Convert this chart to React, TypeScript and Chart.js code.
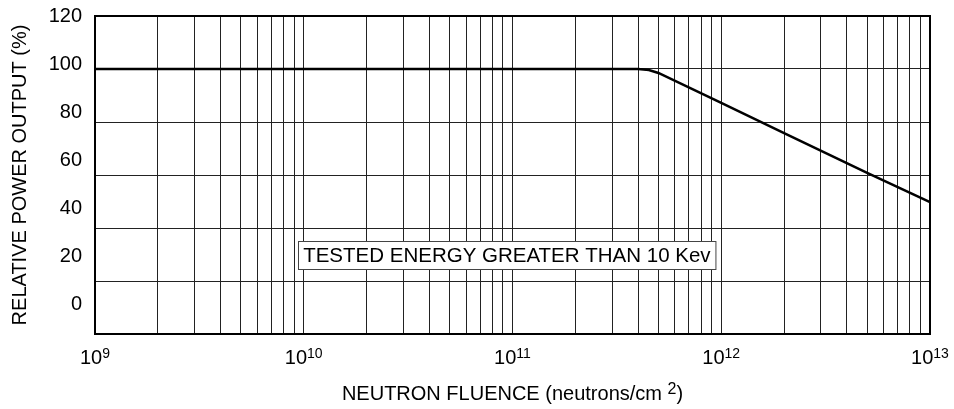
import { useEffect, useRef } from "react";
import { Chart, registerables } from "chart.js";

Chart.register(...registerables);

// ---- data ----
const fluence = [1e9, 4e11, 4.5e11, 5e11, 1e12, 2e12, 5e12, 1e13];
const powerOutput = [100, 100, 99.6, 98.5, 87.2, 75.8, 60.8, 49.8];

const decades = [1e9, 1e10, 1e11, 1e12, 1e13];
const decadeExponents = ["9", "10", "11", "12", "13"];
const minorMultipliers = [2, 3, 4, 5, 6, 7, 8, 9];

const yGridValues = [0, 20, 40, 60, 80, 100, 120];
const yTickLabels = [0, 20, 40, 60, 80, 100, 120];

const xTitleMain = "NEUTRON FLUENCE (neutrons/cm";
const xTitleSup = "2";
const xTitleEnd = ")";
const yTitle = "RELATIVE POWER OUTPUT (%)";
const noteText = "TESTED ENERGY GREATER THAN 10 Kev";
const notePos = { x: 9.4e10, y: 29.8 };

const FONT = "'Liberation Sans', Arial, sans-serif";

export default function App() {
  const ref = useRef<HTMLCanvasElement | null>(null);

  useEffect(() => {
    if (!ref.current) return;
    const xTickValues: number[] = [];
    decades.forEach((d, i) => {
      xTickValues.push(d);
      if (i < decades.length - 1) minorMultipliers.forEach((m) => xTickValues.push(d * m));
    });
    xTickValues.sort((a, b) => a - b);

    const framePlugin = {
      id: "frame",
      afterDraw(chart: any) {
        const { ctx, chartArea: a, scales } = chart;
        ctx.save();
        // note box
        ctx.font = `20.5px ${FONT}`;
        const tw = ctx.measureText(noteText).width;
        const cx = scales.x.getPixelForValue(notePos.x);
        const cy = scales.y.getPixelForValue(notePos.y);
        const bw = tw + 10;
        const bh = 28;
        const bx = Math.round(cx - bw / 2) + 0.5;
        const by = Math.round(cy - bh / 2) + 0.5;
        ctx.fillStyle = "#fff";
        ctx.fillRect(bx, by, bw, bh);
        ctx.strokeStyle = "#444";
        ctx.lineWidth = 1;
        ctx.strokeRect(bx, by, bw, bh);
        ctx.fillStyle = "#000";
        ctx.textAlign = "center";
        ctx.textBaseline = "middle";
        ctx.fillText(noteText, cx, cy + 1);
        // frame
        ctx.strokeStyle = "#000";
        ctx.lineWidth = 2;
        ctx.strokeRect(a.left, a.top, a.right - a.left, a.bottom - a.top);

        // x tick labels with superscript exponents
        ctx.textAlign = "left";
        ctx.textBaseline = "alphabetic";
        const baseY = a.bottom + 30;
        decades.forEach((d, i) => {
          const px = scales.x.getPixelForValue(d);
          ctx.font = `20px ${FONT}`;
          const w1 = ctx.measureText("10").width;
          ctx.font = `14px ${FONT}`;
          const w2 = ctx.measureText(decadeExponents[i]).width;
          const start = px - (w1 + w2) / 2;
          ctx.font = `20px ${FONT}`;
          ctx.fillText("10", start, baseY);
          ctx.font = `14px ${FONT}`;
          ctx.fillText(decadeExponents[i], start + w1, baseY - 6);
        });

        // x title with superscript
        const tY = 400;
        ctx.font = `20px ${FONT}`;
        const m1 = ctx.measureText(xTitleMain + " ").width;
        const m3 = ctx.measureText(xTitleEnd).width;
        ctx.font = `16px ${FONT}`;
        const m2 = ctx.measureText(xTitleSup).width;
        const total = m1 + m2 + m3;
        const tx = (a.left + a.right) / 2 - total / 2;
        ctx.font = `20px ${FONT}`;
        ctx.fillText(xTitleMain + " ", tx, tY);
        ctx.font = `16px ${FONT}`;
        ctx.fillText(xTitleSup, tx + m1, tY - 6);
        ctx.font = `20px ${FONT}`;
        ctx.fillText(xTitleEnd, tx + m1 + m2, tY);
        ctx.restore();
      },
    };

    const chart = new Chart(ref.current, {
      type: "line",
      data: {
        datasets: [
          {
            data: fluence.map((x, i) => ({ x, y: powerOutput[i] })),
            borderColor: "#000",
            borderWidth: 2.5,
            pointRadius: 0,
            tension: 0,
            xAxisID: "x",
            yAxisID: "y",
          },
        ],
      },
      options: {
        animation: false,
        responsive: false,
        layout: { padding: { top: 16, right: 24, left: 0, bottom: 0 } },
        plugins: { legend: { display: false }, tooltip: { enabled: false } },
        scales: {
          x: {
            type: "logarithmic",
            min: 1e9,
            max: 1e13,
            afterBuildTicks: (axis: any) => {
              axis.ticks = xTickValues.map((v) => ({ value: v }));
            },
            afterFit: (axis: any) => {
              axis.height = 75;
              axis.paddingLeft = 0;
              axis.paddingRight = 0;
            },
            ticks: {
              autoSkip: false,
              maxRotation: 0,
              minRotation: 0,
              callback: () => "",
            },
            grid: { color: "#222", lineWidth: 1, drawTicks: false },
            border: { display: false },
            title: { display: false },
          },
          yl: {
            type: "linear",
            position: "left",
            min: -12.5,
            max: 120,
            afterBuildTicks: (axis: any) => {
              axis.ticks = yTickLabels.map((v) => ({ value: v }));
            },
            afterFit: (axis: any) => {
              axis.width = 95;
              axis.paddingTop = 0;
              axis.paddingBottom = 0;
            },
            ticks: {
              padding: 13,
              color: "#000",
              font: { size: 20, family: FONT },
              callback: (v: any) => String(v),
            },
            grid: { display: false, drawTicks: false },
            border: { display: false },
            title: {
              display: true,
              text: yTitle,
              color: "#000",
              font: { size: 20, family: FONT },
              padding: { top: 8, bottom: 0 },
            },
          },
          y: {
            type: "linear",
            position: "left",
            min: 0,
            max: 120,
            afterBuildTicks: (axis: any) => {
              axis.ticks = yGridValues.map((v) => ({ value: v }));
            },
            afterFit: (axis: any) => {
              axis.width = 0;
              axis.paddingTop = 0;
              axis.paddingBottom = 0;
            },
            ticks: { display: false },
            grid: { color: "#222", lineWidth: 1, drawTicks: false },
            border: { display: false },
          },
        },
      },
      plugins: [framePlugin],
    });
    return () => chart.destroy();
  }, []);

  return (
    <div style={{ position: "fixed", left: 0, top: 0, width: 954, height: 409, background: "#fff" }}>
      <canvas ref={ref} width={954} height={409} />
    </div>
  );
}
